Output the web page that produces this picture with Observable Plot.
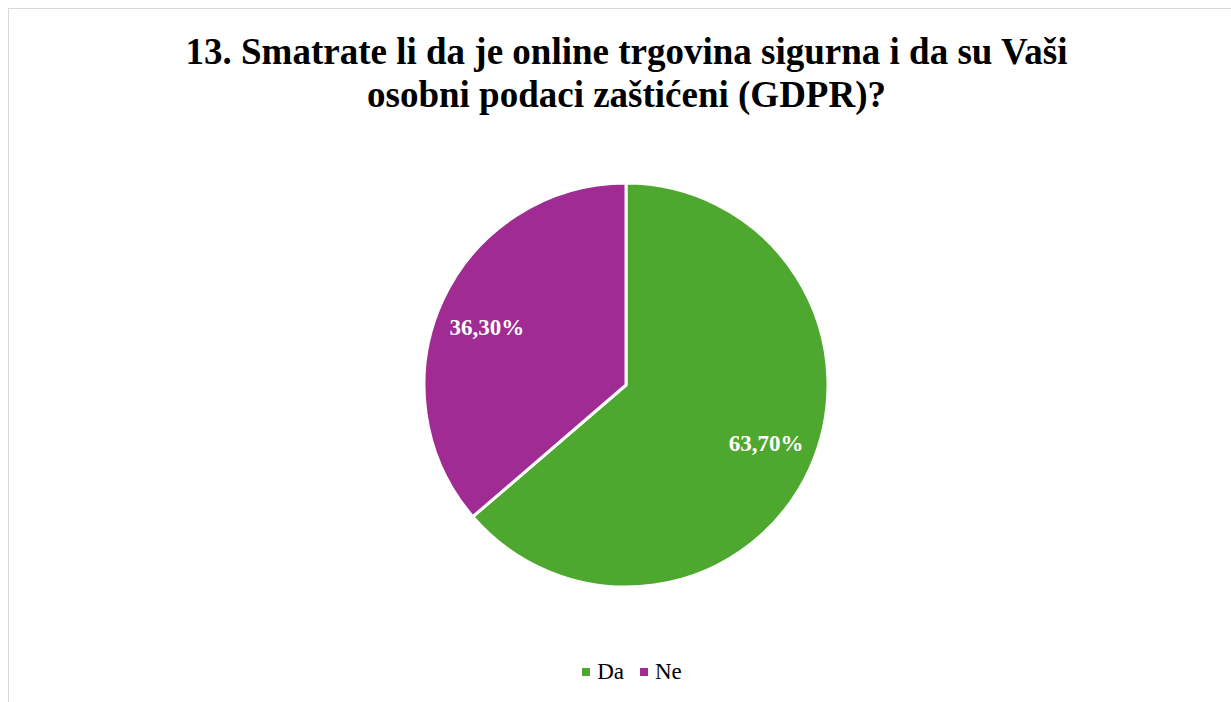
<!DOCTYPE html>
<html>
<head>
<meta charset="utf-8">
<script src="https://cdn.jsdelivr.net/npm/d3@7"></script>
<script src="https://cdn.jsdelivr.net/npm/@observablehq/plot@0.6"></script>
<style>
  html, body { margin: 0; padding: 0; background: #fff; }
  body { width: 1231px; height: 702px; position: relative; overflow: hidden; font-family: "Liberation Serif", "Times New Roman", serif; }
  #frame { position: absolute; left: 8px; top: 8px; width: 1300px; height: 800px; border-left: 1.5px solid #d9d9d9; border-top: 1.5px solid #d9d9d9; box-sizing: border-box; }
  #title { position: absolute; left: 0; top: 30px; width: 1253px; text-align: center; font-family: "Liberation Serif", serif; font-weight: bold; font-size: 37px; line-height: 43px; color: #000; }
  #chart { position: absolute; left: 0; top: 150px; width: 1231px; height: 480px; }
  #legend { position: absolute; left: 0; top: 660px; width: 1264px; text-align: center; font-family: "Liberation Serif", serif; font-size: 23px; line-height: 24px; color: #000; white-space: nowrap; }
  #legend .sw { display: inline-block; width: 8px; height: 8px; vertical-align: 3px; margin-right: 7px; }
  #legend .item { display: inline-block; margin: 0 8px; }
</style>
</head>
<body>
<div id="frame"></div>
<div id="title">13. Smatrate li da je online trgovina sigurna i da su Vaši<br>osobni podaci zaštićeni (GDPR)?</div>
<div id="chart"></div>
<div id="legend"></div>
<script>
const categories = ["Da", "Ne"];
const values = [63.7, 36.3];
const labels = ["63,70%", "36,30%"];
const colors = ["#4EA72E", "#A02B93"];

const data = categories.map((c, i) => ({category: c, value: values[i], label: labels[i]}));
const pie = d3.pie().sort(null).value(d => d.value)(data);
const labelData = pie.map(p => {
  const a = (p.startAngle + p.endAngle) / 2;
  return {label: p.data.label, x: Math.sin(a) * 0.76, y: Math.cos(a) * 0.69};
});

const cx = 626, cy = 235, R = 202;

const slices = (index, scales, values_, dims, context) => {
  const ox = scales.x(0), oy = scales.y(0);
  const r = scales.x(1) - scales.x(0);
  const arc = d3.arc().innerRadius(0).outerRadius(r);
  const g = d3.create("svg:g").attr("transform", `translate(${ox},${oy})`);
  g.selectAll("path").data(pie).join("path")
    .attr("d", arc)
    .attr("fill", d => scales.color(d.data.category))
    .attr("stroke", "#fff")
    .attr("stroke-width", 3)
    .attr("stroke-linejoin", "miter");
  return g.node();
};

const plot = Plot.plot({
  width: 1231,
  height: 480,
  margin: 0,
  x: {domain: [-1, 1], range: [cx - R, cx + R], axis: null},
  y: {domain: [-1, 1], range: [cy + R, cy - R], axis: null},
  color: {domain: categories, range: colors},
  marks: [
    slices,
    Plot.text(labelData, {
      x: "x", y: "y", text: "label",
      fill: "#fff", fontSize: 23, fontWeight: "bold",
      fontFamily: "Liberation Serif, serif",
      textAnchor: "middle", dy: 0
    })
  ]
});
plot.style.background = "transparent";
document.getElementById("chart").appendChild(plot);

const legend = document.getElementById("legend");
categories.forEach((c, i) => {
  const item = document.createElement("span");
  item.className = "item";
  const sw = document.createElement("span");
  sw.className = "sw";
  sw.style.background = colors[i];
  item.appendChild(sw);
  item.appendChild(document.createTextNode(c));
  legend.appendChild(item);
});
</script>
</body>
</html>
